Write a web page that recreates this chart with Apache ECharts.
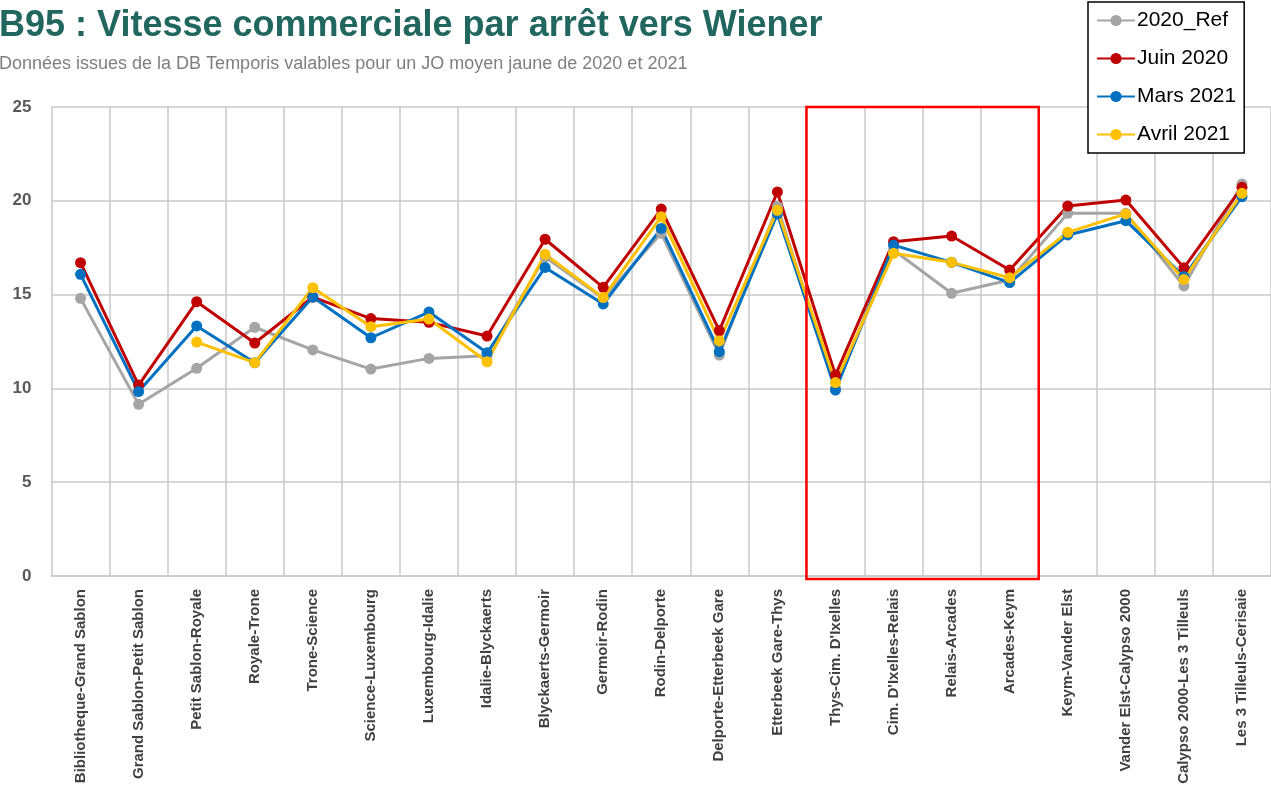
<!DOCTYPE html>
<html>
<head>
<meta charset="utf-8">
<script src="https://cdn.jsdelivr.net/npm/echarts@6/dist/echarts.min.js"></script>
<style>
  html, body { margin: 0; padding: 0; background: #fff; }
  #chart { width: 1271px; height: 785px; }
</style>
</head>
<body>
<div id="chart"></div>
<script>
  const categories = [
    'Bibliotheque-Grand Sablon', 'Grand Sablon-Petit Sablon', 'Petit Sablon-Royale', 'Royale-Trone',
    'Trone-Science', 'Science-Luxembourg', 'Luxembourg-Idalie', 'Idalie-Blyckaerts',
    'Blyckaerts-Germoir', 'Germoir-Rodin', 'Rodin-Delporte', 'Delporte-Etterbeek Gare',
    'Etterbeek Gare-Thys', 'Thys-Cim. D\'Ixelles', 'Cim. D\'Ixelles-Relais', 'Relais-Arcades',
    'Arcades-Keym', 'Keym-Vander Elst', 'Vander Elst-Calypso 2000', 'Calypso 2000-Les 3 Tilleuls',
    'Les 3 Tilleuls-Cerisaie'
  ]
  const ref2020 = [14.8, 9.15, 11.07, 13.26, 12.05, 11.03, 11.6, 11.74, 17.0, 14.8, 18.27, 11.78, 19.7, 10.0, 17.38, 15.07, 15.78, 19.33, 19.33, 15.46, 20.9]
  const juin2020 = [16.7, 10.18, 14.62, 12.42, 14.87, 13.72, 13.52, 12.79, 17.95, 15.39, 19.56, 13.08, 20.47, 10.71, 17.82, 18.12, 16.31, 19.72, 20.04, 16.43, 20.72]
  const mars2021 = [16.08, 9.83, 13.33, 11.37, 14.87, 12.7, 14.07, 11.9, 16.45, 14.5, 18.53, 11.96, 19.3, 9.91, 17.64, 16.72, 15.64, 18.18, 18.94, 15.96, 20.22]
  const avril2021 = [null, null, 12.47, 11.37, 15.37, 13.29, 13.7, 11.42, 17.15, 14.84, 19.15, 12.53, 19.49, 10.31, 17.2, 16.72, 15.9, 18.32, 19.3, 15.81, 20.4]
  const highlightFrom = 13  // Thys-Cim. D'Ixelles
  const highlightTo = 16    // Arcades-Keym

  const chart = echarts.init(document.getElementById('chart'))

  function lineSeries(name, data, color) {
    return {
      name: name,
      type: 'line',
      data: data,
      symbol: 'circle',
      symbolSize: 11,
      connectNulls: false,
      lineStyle: { color: color, width: 3 },
      itemStyle: { color: color },
      z: 3
    }
  }

  chart.setOption({
    animation: false,
    title: {
      text: 'B95 : Vitesse commerciale par arrêt vers Wiener',
      subtext: 'Données issues de la DB Temporis valables pour un JO moyen jaune de 2020 et 2021',
      left: -1,
      top: 8,
      itemGap: 11,
      padding: 0,
      textStyle: {
        fontFamily: "'Liberation Sans Narrow', 'Arial Narrow', sans-serif",
        fontSize: 36,
        fontWeight: 'bold',
        color: '#21665f'
      },
      subtextStyle: {
        fontFamily: "'Liberation Sans Narrow', 'Arial Narrow', sans-serif",
        fontSize: 18,
        color: '#7f7f7f'
      }
    },
    legend: {
      orient: 'vertical',
      left: 1088,
      top: 2,
      padding: [8, 8, 8, 8],
      itemGap: 17,
      itemWidth: 38,
      itemHeight: 14,
      borderColor: '#000',
      borderWidth: 1.5,
      backgroundColor: '#fff',
      textStyle: {
        fontFamily: "'Liberation Sans', Arial, sans-serif",
        fontSize: 21,
        color: '#000',
        padding: [0, 0, 0, -3]
      }
    },
    grid: {
      left: 51.5,
      right: 0,
      top: 107,
      bottom: 209,
      outerBoundsMode: 'none',
      containLabel: false
    },
    xAxis: {
      type: 'category',
      data: categories,
      boundaryGap: true,
      axisLine: { lineStyle: { color: '#c8c8c8', width: 1.5 } },
      axisTick: { show: false },
      splitLine: { show: true, lineStyle: { color: '#c8c8c8', width: 1.5 } },
      axisLabel: {
        rotate: 90,
        interval: 0,
        margin: 13,
        fontFamily: "'Liberation Sans Narrow', 'Arial Narrow', sans-serif",
        fontWeight: 'bold',
        fontSize: 15,
        color: '#404040'
      }
    },
    yAxis: {
      type: 'value',
      min: 0,
      max: 25,
      interval: 5,
      axisLine: { show: false },
      axisTick: { show: false },
      splitLine: { lineStyle: { color: '#c8c8c8', width: 1.5 } },
      axisLabel: {
        margin: 20,
        fontFamily: "'Liberation Sans', Arial, sans-serif",
        fontWeight: 'bold',
        fontSize: 17,
        color: '#595959'
      }
    },
    series: [
      lineSeries('2020_Ref', ref2020, '#a5a5a5'),
      lineSeries('Juin 2020', juin2020, '#c00000'),
      lineSeries('Mars 2021', mars2021, '#0070c0'),
      lineSeries('Avril 2021', avril2021, '#ffc000')
    ]
  })

  // red frame around the highlighted stretch, aligned on the category bands
  const xa = chart.convertToPixel({ xAxisIndex: 0 }, highlightFrom)
  const xb = chart.convertToPixel({ xAxisIndex: 0 }, highlightFrom + 1)
  const band = xb - xa
  const x0 = xa - band / 2
  const x1 = chart.convertToPixel({ xAxisIndex: 0 }, highlightTo) + band / 2
  const yTop = chart.convertToPixel({ yAxisIndex: 0 }, 25)
  const yBot = chart.convertToPixel({ yAxisIndex: 0 }, 0) + 3
  chart.setOption({
    graphic: [{
      type: 'rect',
      z: 10,
      shape: { x: x0, y: yTop, width: x1 - x0, height: yBot - yTop },
      style: { fill: 'none', stroke: '#ff0000', lineWidth: 2.5 }
    }]
  })
</script>
</body>
</html>
